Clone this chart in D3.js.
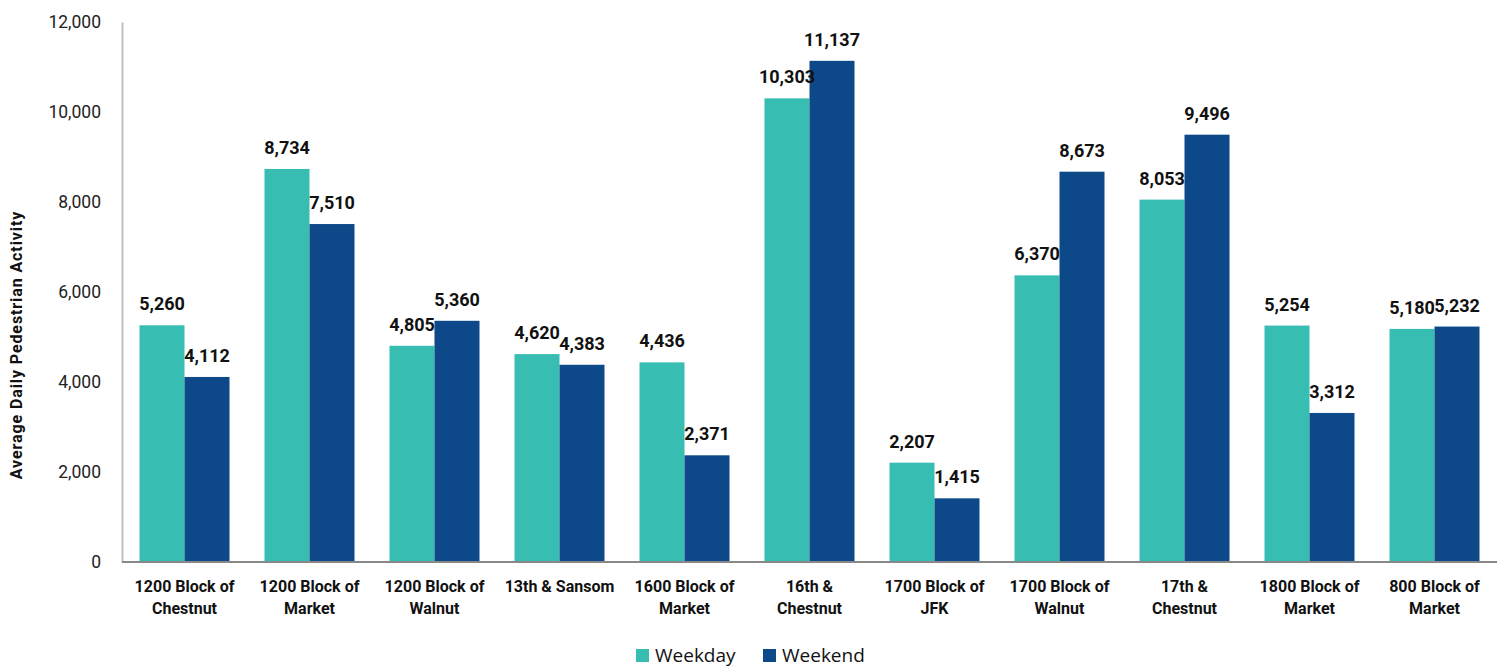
<!DOCTYPE html>
<html>
<head>
<meta charset="utf-8">
<script src="https://cdn.jsdelivr.net/npm/d3@7"></script>
<style>
  body { margin: 0; background: #fff; }
  svg text { font-family: Roboto, "DejaVu Sans", sans-serif; }
</style>
</head>
<body>
<script>
var categories = [
  ['1200 Block of', 'Chestnut'],
  ['1200 Block of', 'Market'],
  ['1200 Block of', 'Walnut'],
  ['13th & Sansom'],
  ['1600 Block of', 'Market'],
  ['16th &', 'Chestnut'],
  ['1700 Block of', 'JFK'],
  ['1700 Block of', 'Walnut'],
  ['17th &', 'Chestnut'],
  ['1800 Block of', 'Market'],
  ['800 Block of', 'Market']
];
var weekday = [5260, 8734, 4805, 4620, 4436, 10303, 2207, 6370, 8053, 5254, 5180];
var weekend = [4112, 7510, 5360, 4383, 2371, 11137, 1415, 8673, 9496, 3312, 5232];
var seriesNames = ['Weekday', 'Weekend'];
var seriesColors = ['#38bdb3', '#0d4889'];
var yTicks = [0, 2000, 4000, 6000, 8000, 10000, 12000];

var width = 1500, height = 667;
var plotLeft = 122, plotRight = 1497, plotTop = 22, plotBottom = 562;

var svg = d3.select('body').append('svg')
    .attr('width', width)
    .attr('height', height);

var x = d3.scaleBand()
    .domain(d3.range(categories.length))
    .range([plotLeft, plotRight])
    .paddingInner(0.28)
    .paddingOuter(0.14);

var xSub = d3.scaleBand()
    .domain([0, 1])
    .range([0, x.bandwidth()]);

var y = d3.scaleLinear()
    .domain([0, 12000])
    .range([plotBottom, plotTop]);

var fmt = d3.format(',');

// y axis
var yAxis = svg.append('g')
    .attr('transform', 'translate(' + plotLeft + ',0)')
    .call(d3.axisLeft(y).tickValues(yTicks).tickFormat(fmt).tickSize(0).tickPadding(21));
yAxis.select('.domain').attr('stroke', '#bfbfbf').attr('stroke-width', 2);
yAxis.selectAll('text')
    .style('font-size', '17.5px')
    .attr('fill', '#222');

// axis title sits a bit below the plot's middle in the original
svg.append('text')
    .attr('transform', 'translate(22,345) rotate(-90)')
    .attr('text-anchor', 'middle')
    .style('font-size', '16px')
    .style('font-weight', 'bold')
    .style('letter-spacing', '0.9px')
    .attr('fill', '#111')
    .text('Average Daily Pedestrian Activity');

// bars
var rows = categories.map(function(c, i) {
  return { i: i, values: [weekday[i], weekend[i]] };
});

var groups = svg.selectAll('.group')
    .data(rows)
    .enter().append('g')
    .attr('class', 'group')
    .attr('transform', function(d) { return 'translate(' + x(d.i) + ',0)'; });

var cells = groups.selectAll('.cell')
    .data(function(d) { return d.values.map(function(v, k) { return { k: k, v: v }; }); })
    .enter();

cells.append('rect')
    .attr('x', function(d) { return xSub(d.k); })
    .attr('y', function(d) { return y(d.v); })
    .attr('width', xSub.bandwidth())
    .attr('height', function(d) { return y(0) - y(d.v); })
    .attr('fill', function(d) { return seriesColors[d.k]; });

cells.append('text')
    .attr('x', function(d) { return xSub(d.k) + xSub.bandwidth() / 2; })
    .attr('y', function(d) { return y(d.v) - 15; })
    .attr('text-anchor', 'middle')
    .style('font-size', '18px')
    .style('font-weight', 'bold')
    .attr('fill', '#111')
    .text(function(d) { return fmt(d.v); });

// baseline
svg.append('line')
    .attr('x1', plotLeft).attr('x2', plotRight)
    .attr('y1', y(0)).attr('y2', y(0))
    .attr('stroke', '#888')
    .attr('stroke-width', 2);

// category labels
var catLabels = svg.selectAll('.cat')
    .data(categories)
    .enter().append('text')
    .attr('class', 'cat')
    .attr('text-anchor', 'middle')
    .attr('x', function(d, i) { return x(i) + x.bandwidth() / 2; })
    .attr('y', 592)
    .style('font-size', '16px')
    .style('font-weight', 'bold')
    .attr('fill', '#111');

catLabels.selectAll('tspan')
    .data(function(d) { return d; })
    .enter().append('tspan')
    .attr('x', function() { return d3.select(this.parentNode).attr('x'); })
    .attr('dy', function(d, j) { return j === 0 ? 0 : 22; })
    .text(function(d) { return d; });

// legend
var legendX = [636, 763];
var legend = svg.selectAll('.legend')
    .data(seriesNames)
    .enter().append('g')
    .attr('class', 'legend')
    .attr('transform', function(d, i) { return 'translate(' + legendX[i] + ',649)'; });

legend.append('rect')
    .attr('width', 13)
    .attr('height', 13)
    .attr('fill', function(d, i) { return seriesColors[i]; });

legend.append('text')
    .attr('x', 19)
    .attr('y', 12.5)
    .style('font-size', '19px')
    .style('font-family', '"Open Sans", sans-serif')
    .attr('fill', '#111')
    .text(function(d) { return d; });
</script>
</body>
</html>
